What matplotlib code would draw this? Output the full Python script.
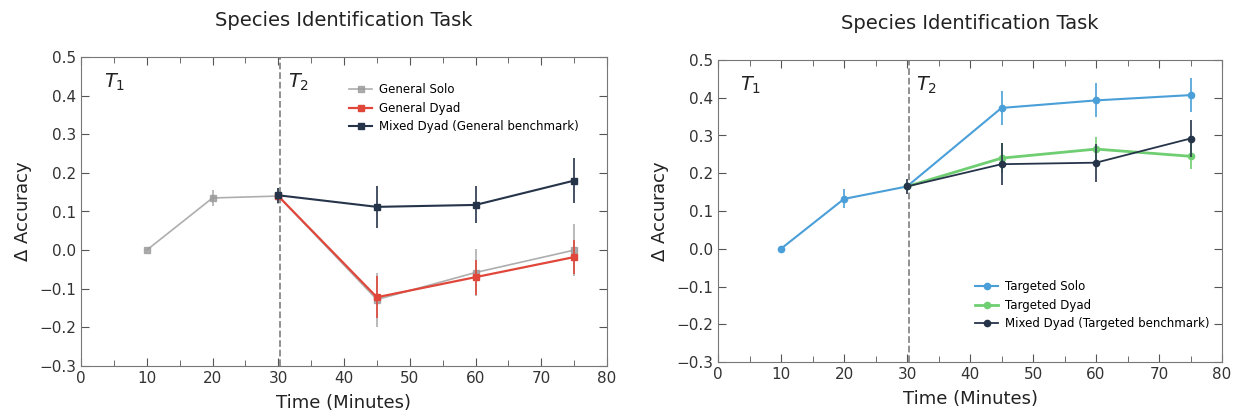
import matplotlib
matplotlib.use("Agg")
import matplotlib.pyplot as plt
from matplotlib.ticker import MultipleLocator

# ---- data ----
time_all = [10, 20, 30, 45, 60, 75]
time_t2 = [30, 45, 60, 75]

general_solo = [0.0, 0.135, 0.140, -0.128, -0.058, 0.0]
general_solo_err = [0.0, 0.02, 0.02, 0.07, 0.06, 0.068]
general_dyad = [0.140, -0.122, -0.070, -0.018]
general_dyad_err = [0.0, 0.055, 0.045, 0.045]
mixed_general = [0.142, 0.112, 0.117, 0.180]
mixed_general_err = [0.02, 0.055, 0.048, 0.058]

targeted_solo = [0.0, 0.132, 0.165, 0.373, 0.393, 0.407]
targeted_solo_err = [0.0, 0.025, 0.01, 0.045, 0.045, 0.045]
targeted_dyad = [0.165, 0.240, 0.264, 0.245]
targeted_dyad_err = [0.0, 0.04, 0.033, 0.035]
mixed_targeted = [0.165, 0.224, 0.228, 0.292]
mixed_targeted_err = [0.02, 0.055, 0.05, 0.048]

title = "Species Identification Task"

fig = plt.figure(figsize=(12.37, 4.15), dpi=100)
ax1 = fig.add_axes([81/1237, 1-366/415, 526/1237, 309/415])
ax2 = fig.add_axes([718/1237, 1-362/415, 504/1237, 302/415])

GRAY = "#9a9a9a"
RED = "#e0473a"
NAVY = "#26344a"
BLUE = "#4a9fd8"
GREEN = "#6fce72"

def style(ax):
    ax.set_xlim(0, 80)
    ax.set_ylim(-0.3, 0.5)
    ax.xaxis.set_major_locator(MultipleLocator(10))
    ax.xaxis.set_minor_locator(MultipleLocator(5))
    ax.yaxis.set_major_locator(MultipleLocator(0.1))
    ax.tick_params(which="both", direction="in", top=True, right=True,
                   colors="#555555", labelcolor="#333333", labelsize=11)
    ax.tick_params(which="major", length=6)
    ax.tick_params(which="minor", length=4)
    for s in ax.spines.values():
        s.set_color("#777777")
    ax.set_xlabel("Time (Minutes)", fontsize=13, color="#222222", labelpad=6)
    ax.set_ylabel(r"$\Delta$ Accuracy", fontsize=13, color="#222222")
    ax.set_title(title, fontsize=14, color="#222222", pad=22)
    ax.axvline(30.3, color="#888888", ls="--", lw=1.3)
    ax.text(3.5, 0.42, r"$T_1$", fontsize=14, color="#222222")
    ax.text(31.5, 0.42, r"$T_2$", fontsize=14, color="#222222")

def plot(ax, x, y, e, c, label, marker, lw=1.3, alpha=1.0):
    ax.errorbar(x, y, yerr=e, color=c, fmt="none", elinewidth=1.2,
                capsize=0, alpha=alpha)
    ax.plot(x, y, color=c, marker=marker, ms=4.5, lw=lw, label=label,
            alpha=alpha)

style(ax1)
plot(ax1, time_all, general_solo, general_solo_err, GRAY, "General Solo", "s", lw=1.2, alpha=0.8)
plot(ax1, time_t2, general_dyad, general_dyad_err, RED, "General Dyad", "s", lw=1.6)
plot(ax1, time_t2, mixed_general, mixed_general_err, NAVY, "Mixed Dyad (General benchmark)", "s", lw=1.5)
ax1.legend(loc="upper left", bbox_to_anchor=(0.5, 0.93), frameon=False,
           fontsize=8.5, handlelength=2.0, labelspacing=0.45, borderaxespad=0,
           numpoints=1, handletextpad=0.6)

style(ax2)
plot(ax2, time_all, targeted_solo, targeted_solo_err, BLUE, "Targeted Solo", "o", lw=1.5)
plot(ax2, time_t2, targeted_dyad, targeted_dyad_err, GREEN, "Targeted Dyad", "o", lw=2.0)
plot(ax2, time_t2, mixed_targeted, mixed_targeted_err, NAVY, "Mixed Dyad (Targeted benchmark)", "o", lw=1.3)
ax2.legend(loc="lower left", bbox_to_anchor=(0.5, 0.09), frameon=False,
           fontsize=8.5, handlelength=2.0, labelspacing=0.45, borderaxespad=0,
           numpoints=1, handletextpad=0.6)

fig.savefig("out.png", dpi=100)
